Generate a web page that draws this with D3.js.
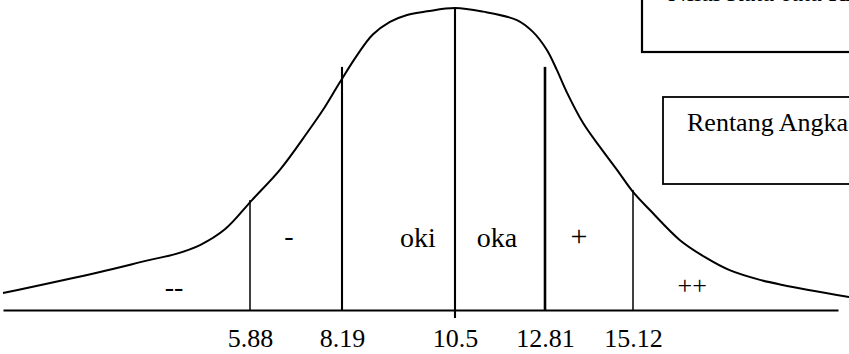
<!DOCTYPE html>
<html>
<head>
<meta charset="utf-8">
<script src="https://cdn.jsdelivr.net/npm/d3@7"></script>
<style>
  html, body { margin: 0; padding: 0; background: #fff; }
  svg { display: block; }
  text { font-family: "Liberation Serif", "Times New Roman", serif; fill: #000; }
</style>
</head>
<body>
<div id="chart"></div>
<script>
// Cut points on the score axis and their tick labels
const cutValues = [5.88, 8.19, 10.5, 12.81, 15.12];
const cutLabels = ["5.88", "8.19", "10.5", "12.81", "15.12"];
// Height reached by each cut line (same units as the curve, peak = 100)
const cutHeights = [36.4, 80.5, 100, 80.5, 39.7];

// Bell curve: score values and relative heights
const curveX = [0, 2.31, 3.5, 4.10, 4.69, 5.29, 5.93, 6.63, 7.31, 7.71, 8.14, 8.5, 8.82, 9.17, 9.52, 9.93,
                10.5, 11.22, 12.09, 12.5, 12.86, 13.12, 13.39, 13.81, 14.25, 14.7, 15.12,
                15.58, 16.39, 17.08, 17.75, 18.6, 19.19, 21.0];
const curveY = [5.6, 12.6, 16.6, 18.5, 21.5, 26.8, 36.4, 46.4, 58.6, 66.2, 75.5, 84.4, 91.2, 95.4, 97.7, 98.9,
                100, 98.8, 96.0, 92.1, 86.1, 79.5, 71.9, 61.9, 54.0, 46.4, 39.1,
                33.1, 23.2, 17.5, 13.2, 9.9, 8.3, 4.3];

// Category names for the regions between the cuts
const regionNames = ["--", "-", "oki", "oka", "+", "++"];

// Legend box captions
const boxTexts = ["Nilai Rata-rata Ideal", "Rentang Angka"];

const W = 849, H = 354;

const svg = d3.select("#chart").append("svg")
  .attr("width", W).attr("height", H)
  .attr("viewBox", `0 0 ${W} ${H}`);

svg.append("rect").attr("width", W).attr("height", H).attr("fill", "#fff");

// Hand-spaced axis: piecewise linear between the cut points
const x = d3.scaleLinear()
  .domain([0, ...cutValues, 20.7])
  .range([3, 250, 342, 455, 545, 633, 838]);

const y = d3.scaleLinear().domain([0, 100]).range([310, 8]);

// Legend boxes (partly running off the right edge)
const boxes = svg.append("g").attr("fill", "none").attr("stroke", "#000");
boxes.append("rect")
  .attr("x", 642).attr("y", -20).attr("width", 260).attr("height", 72)
  .attr("stroke-width", 2.2);
boxes.append("rect")
  .attr("x", 663).attr("y", 97).attr("width", 240).attr("height", 87)
  .attr("stroke-width", 1.8);

svg.append("text")
  .attr("x", 668).attr("y", 1)
  .attr("font-size", 26)
  .text(boxTexts[0]);
svg.append("text")
  .attr("x", 687).attr("y", 131)
  .attr("font-size", 26)
  .text(boxTexts[1]);

// Axis line with tick labels under the cut points
const axis = d3.axisBottom(x)
  .tickValues(cutValues)
  .tickFormat((d, i) => cutLabels[i])
  .tickSize(0)
  .tickSizeOuter(0);

const gAxis = svg.append("g")
  .attr("transform", `translate(0, ${y(0)})`)
  .call(axis);
gAxis.select(".domain").attr("stroke", "#000").attr("stroke-width", 2);
gAxis.selectAll(".tick text")
  .attr("y", 37).attr("dy", 0)
  .attr("font-size", 26)
  .attr("font-family", "Liberation Serif, Times New Roman, serif")
  .attr("fill", "#000");

// Vertical cut lines
svg.append("g").selectAll("line")
  .data(cutValues)
  .join("line")
  .attr("x1", d => x(d)).attr("x2", d => x(d))
  .attr("y1", (d, i) => y(cutHeights[i]))
  .attr("y2", (d, i) => i === 2 ? y(0) + 8 : y(0))
  .attr("stroke", "#000")
  .attr("stroke-width", (d, i) => (i === 0 || i === 4) ? 1.5 : (i === 3 ? 2.6 : 2.1));

// Bell curve
const pts = curveX.map((v, i) => [v, curveY[i]]);
svg.append("path")
  .datum(pts)
  .attr("fill", "none")
  .attr("stroke", "#000")
  .attr("stroke-width", 2)
  .attr("d", d3.line().x(d => x(d[0])).y(d => y(d[1])).curve(d3.curveCatmullRom.alpha(0.5)));

// Region labels
const labelAt = [
  { v: 4.07, h: 4.6, size: 28 },
  { v: 6.86, h: 21.5, size: 28 },
  { v: 9.74, h: 20.9, size: 28 },
  { v: 11.58, h: 20.9, size: 28 },
  { v: 13.70, h: 21.2, size: 30 },
  { v: 16.73, h: 5.3, size: 26 }
];
svg.append("g").selectAll("text")
  .data(regionNames)
  .join("text")
  .attr("x", (d, i) => x(labelAt[i].v))
  .attr("y", (d, i) => y(labelAt[i].h))
  .attr("text-anchor", "middle")
  .attr("font-size", (d, i) => labelAt[i].size)
  .text(d => d);
</script>
</body>
</html>
